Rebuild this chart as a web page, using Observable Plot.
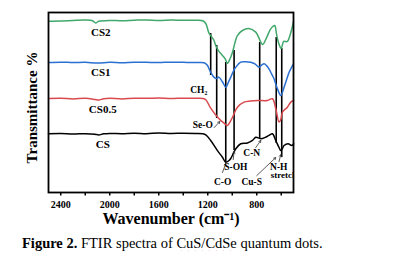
<!DOCTYPE html>
<html>
<head>
<meta charset="utf-8">
<script src="https://cdn.jsdelivr.net/npm/d3@7"></script>
<script src="https://cdn.jsdelivr.net/npm/@observablehq/plot@0.6"></script>
<style>
  html, body { margin: 0; padding: 0; background: #fff; }
  #chart { width: 407px; height: 228px; }
  #caption {
    font-family: "Liberation Serif", "Times New Roman", serif;
    font-size: 14.5px;
    line-height: 16px;
    padding: 7px 0 0 22px;
    color: #000;
    white-space: nowrap;
  }
  #caption b { font-weight: bold; }
  .squiggle { text-decoration: underline wavy #d33; text-decoration-thickness: 1px; text-underline-offset: 2px; }
</style>
</head>
<body>
<div id="chart"></div>
<div id="caption"><b>Figure 2.</b> FTIR spectra of <span class="squiggle">CuS/CdSe</span> quantum dots.</div>
<script>
// FTIR spectra, wavenumber (cm-1) vs. offset transmittance
const wnCS2 = [2500,2400,2300,2200,2140,2115,2090,2000,1900,1800,1700,1600,1500,1400,1300,1240,1216,1190,1176,1150,1135,1110,1094,1060,1039,1020,998,975,958,917,865,808,780,767,751,720,690,669,653,641,633,620,600,580,551,522,500];
const tCS2  = [95.2,95.3,95.6,95.8,95.4,94.2,95.1,95.6,95.4,95.7,95.9,95.6,95.8,95.7,95.7,95.4,93.9,88.5,87.2,84.6,81.7,78.5,77.2,74.5,71.7,74,77.9,84,87.2,90,91.1,89.1,85.5,83.5,82.2,86,90.5,92.2,92.8,89,86.1,82.8,80,83.9,83.9,88.9,95];

const wnCS1 = [2500,2400,2300,2200,2100,2000,1900,1800,1700,1600,1500,1400,1300,1230,1205,1189,1176,1150,1127,1110,1080,1053,1030,1012,990,971,931,890,849,815,781,760,740,720,700,680,659,631,604,577,550,536,500];
const tCS1  = [72.2,72.4,72.2,72.3,71.9,72.3,72.1,72.4,72.3,72.2,72.4,72.3,72.2,72.1,70.8,68.7,66.8,64.1,63.3,64.1,61.5,58.5,61.5,64.1,67.5,69.6,72.4,72.6,72.4,71.5,69.6,70.8,71.5,70.5,68.7,66,63.2,57.6,53.9,58.5,64,66.8,71.5];

const wnCS05 = [2500,2400,2300,2200,2120,2090,2050,2000,1900,1800,1700,1600,1500,1400,1300,1240,1216,1176,1121,1067,1039,1020,998,958,904,850,794,713,672,645,618,604,590,550,522,500];
const tCS05  = [52.2,52.4,52.0,52.3,51.7,51.4,52.1,52.3,52.0,52.4,52.3,52.5,52.2,52.4,52.3,52.2,51.5,46.9,42,38.5,37.2,39,41.8,47.4,50.2,50.8,51.1,51.1,52.1,46.7,39.1,40.5,44.6,47.4,50.2,51.1];

const wnCS = [2500,2400,2300,2200,2120,2090,2050,2000,1900,1800,1700,1600,1500,1400,1300,1240,1216,1176,1121,1080,1053,1026,1012,971,931,876,835,808,781,767,727,700,672,645,618,604,590,577,544,516,498];
const tCS  = [32.6,32.8,32.5,32.7,32.4,32.0,32.6,32.8,32.7,32.9,32.7,33.0,32.8,32.9,32.8,32.6,32.0,28.9,23.3,19.6,16.8,17.8,18.9,24.3,27.1,27.5,28.9,30.7,30.2,29.8,30.7,31.7,32.6,28.9,25,23.3,24.5,26.1,27.1,26.1,27.1];

const seriesNames  = ["CS2", "CS1", "CS0.5", "CS"];
const seriesColors = ["#41a86b", "#2a6fd1", "#d94a4f", "#000000"];
const seriesLabelWn = [2073, 2073, 2057, 2057];
const seriesLabelT  = [88.9, 66.7, 46.1, 26.7];

// band marker lines
const markerWn     = [1176, 1127, 1053, 985, 776, 641, 596];
const markerTop    = [88.3, 81.7, 72.2, 78.9, 83.3, 86.1, 80];
const markerBottom = [65, 41.1, 16.7, 23.3, 30, 27.2, 19.4];

// band assignments
const bandNames = ["CH\u2082", "Se-O", "C-O", "S-OH", "C-N", "Cu-S", "N-H"];
const bandWn    = [1273, 1240, 1078, 971, 841, 841, 620];
const bandT     = [57.2, 37.8, 6.1, 14.4, 22.2, 6.1, 14.4];
const stretchText = ["stretch"];
const stretchWn = [686];
const stretchT  = [9.4];

// pointers from labels to bands
const arrowWn1 = [1147, 1080, 992, 808, 800, 618];
const arrowT1  = [36.1, 11.1, 18.3, 25, 9.4, 17.2];
const arrowWn2 = [1102, 1053, 985, 767, 645, 604];
const arrowT2  = [39.4, 16.1, 22.8, 28.9, 19.4, 21];

const majorTicks = [2400, 2000, 1600, 1200, 800];
const minorTicks = [2200, 1800, 1400, 1000, 600];
const xTitle = ["Wavenumber (cm\u207B\u00B9)"];
const yTitle = ["Transmittance %"];

const serif = "Liberation Serif, Times New Roman, serif";

const spectra = [[wnCS2, tCS2], [wnCS1, tCS1], [wnCS05, tCS05], [wnCS, tCS]]
  .flatMap(([wn, t], i) => wn.map((w, j) => ({series: seriesNames[i], wn: w, t: t[j]})));
const seriesLabels = seriesNames.map((s, i) => ({s, wn: seriesLabelWn[i], t: seriesLabelT[i]}));
const markers = markerWn.map((w, i) => ({wn: w, t1: markerTop[i], t2: markerBottom[i]}));
const bands = bandNames.map((s, i) => ({s, wn: bandWn[i], t: bandT[i]}));
const stretch = stretchText.map((s, i) => ({s, wn: stretchWn[i], t: stretchT[i]}));
const arrows = arrowWn1.map((w, i) => ({x1: w, y1: arrowT1[i], x2: arrowWn2[i], y2: arrowT2[i]}));

const chart = Plot.plot({
  width: 407,
  height: 228,
  marginLeft: 48,
  marginRight: 114,
  marginTop: 12,
  marginBottom: 36,
  style: {fontFamily: serif, background: "#fff", color: "#000"},
  x: {domain: [2500, 500]},
  y: {domain: [0, 100], axis: null},
  color: {domain: seriesNames, range: seriesColors},
  marks: [
    Plot.ruleX(markers, {x: "wn", y1: "t1", y2: "t2", stroke: "#000", strokeWidth: 1.6}),
    Plot.line(spectra, {x: "wn", y: "t", z: "series", stroke: "series", strokeWidth: 1.5, curve: "catmull-rom"}),
    Plot.arrow(arrows, {x1: "x1", y1: "y1", x2: "x2", y2: "y2", stroke: "#333", strokeWidth: 0.8, headLength: 4}),
    Plot.text(seriesLabels, {x: "wn", y: "t", text: "s", fontSize: 11, fontWeight: "bold", fill: "#000"}),
    Plot.text(bands, {x: "wn", y: "t", text: "s", fontSize: 9.5, fontWeight: "bold", fill: "#000"}),
    Plot.text(stretch, {x: "wn", y: "t", text: "s", fontSize: 9, fontWeight: "bold", fill: "#000", textAnchor: "start", clip: true}),
    Plot.frame({stroke: "#000", strokeWidth: 1.8}),
    Plot.axisX({ticks: majorTicks, tickSize: 3.5, tickPadding: 5, tickFormat: d => String(d), fontSize: 10, fontWeight: "bold", label: null, strokeWidth: 1.5}),
    Plot.axisX({ticks: minorTicks, tickSize: 3.5, tickFormat: () => "", label: null, strokeWidth: 1.5}),
    Plot.text(xTitle, {frameAnchor: "bottom", dy: 31, text: d => d, fontSize: 16, fontWeight: "bold", lineAnchor: "bottom"}),
    Plot.text(yTitle, {frameAnchor: "left", dx: -16, dy: 5, rotate: -90, textAnchor: "middle", text: d => d, fontSize: 15, fontWeight: "bold"})
  ]
});
document.getElementById("chart").appendChild(chart);
</script>
</body>
</html>
